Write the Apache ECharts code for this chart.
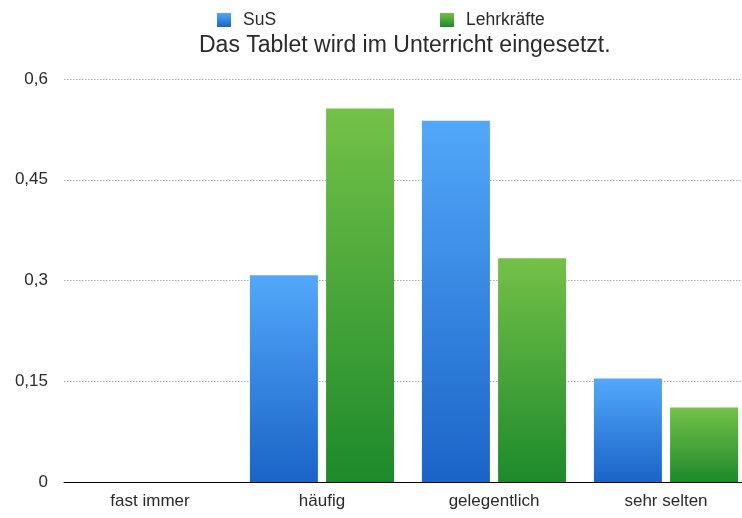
<!DOCTYPE html>
<html><head><meta charset="utf-8">
<script src="https://cdn.jsdelivr.net/npm/echarts@6/dist/echarts.min.js"></script>
<style>html,body{margin:0;padding:0;background:#fff;overflow:hidden;width:742px;height:518px}#c{width:752px;height:518px}</style>
</head><body><div id="c"></div>
<script>
const categories = ['fast immer', 'häufig', 'gelegentlich', 'sehr selten'];
const susValues = [0, 0.308, 0.538, 0.154];
const lehrValues = [0, 0.556, 0.333, 0.111];
const yTicks = [0, 0.15, 0.3, 0.45, 0.6];
const titleText = 'Das Tablet wird im Unterricht eingesetzt.';
const seriesNames = ['SuS', 'Lehrkräfte'];

const FONT = '"Liberation Sans"';
const chart = echarts.init(document.getElementById('c'));
function grad(top, bottom) {
  return new echarts.graphic.LinearGradient(0, 0, 0, 1, [
    {offset: 0, color: top}, {offset: 1, color: bottom}
  ]);
}
const legendText = {fontFamily: FONT, fontSize: 17.5, color: '#2a2a2a', padding: [0,0,0,7]};
chart.setOption({
  animation: false,
  backgroundColor: '#fff',
  title: {
    text: titleText, left: 199, top: 34, padding: 0,
    textStyle: {fontFamily: FONT, fontWeight: 'normal', fontSize: 23, color: '#2a2a2a'}
  },
  legend: [
    {data: [seriesNames[0]], left: 217, top: 11, padding: 0, itemWidth: 14, itemHeight: 14, icon: 'rect', textStyle: legendText},
    {data: [seriesNames[1]], left: 440, top: 11, padding: 0, itemWidth: 14, itemHeight: 14, icon: 'rect', textStyle: legendText}
  ],
  grid: {left: 64, top: 79, right: 0, height: 403, containLabel: false},
  xAxis: {
    type: 'category', data: categories,
    axisLine: {lineStyle: {color: '#000', width: 1}},
    axisTick: {show: false},
    axisLabel: {fontFamily: FONT, fontSize: 17, color: '#2a2a2a', margin: 11}
  },
  yAxis: {
    type: 'value', min: 0, max: 0.6, interval: 0.15,
    axisLine: {show: false}, axisTick: {show: false},
    axisLabel: {
      fontFamily: FONT, fontSize: 17, color: '#2a2a2a', margin: 16,
      formatter: v => {
        const t = yTicks.find(x => Math.abs(x - v) < 1e-9);
        return String(t !== undefined ? t : v).replace('.', ',');
      }
    },
    splitLine: {lineStyle: {color: '#aaa', type: [1.5, 1.5], width: 1}}
  },
  series: [
    {
      name: seriesNames[0], type: 'bar', data: susValues, barWidth: 68, barGap: '12%',
      itemStyle: {color: grad('#52a8fa', '#1a64c7')}
    },
    {
      name: seriesNames[1], type: 'bar', data: lehrValues, barWidth: 68,
      itemStyle: {color: grad('#74c148', '#1d8a2b')}
    }
  ]
});
</script></body></html>
